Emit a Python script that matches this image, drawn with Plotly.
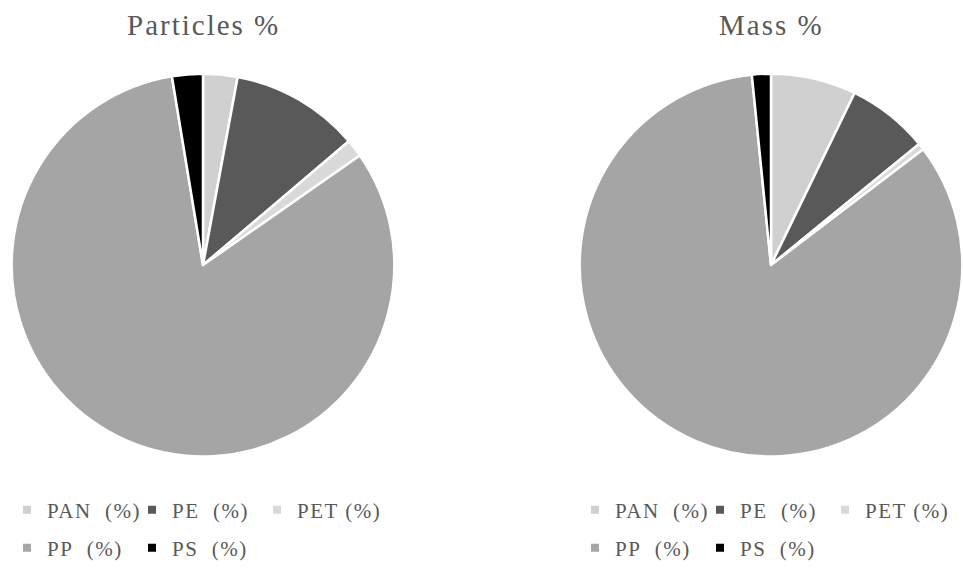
import plotly.graph_objects as go

# ---- data ----
labels = ["PAN  (%)", "PE  (%)", "PET (%)", "PP  (%)", "PS  (%)"]
particles_pct = [2.9, 10.9, 1.5, 82.1, 2.6]
mass_pct = [7.2, 6.9, 0.55, 83.75, 1.6]
colors = ["#d0d0d0", "#595959", "#d9d9d9", "#a5a5a5", "#000000"]
titles = ["Particles %", "Mass %"]

W, H = 963, 569
FONT = "Liberation Serif, Times New Roman, serif"
GRAY = "#595959"

fig = go.Figure()

# pie geometry (pixel centers / radius converted to domain fractions)
def dom(cx, cy, r):
    return dict(x=[max(0, (cx - r) / W), min(1, (cx + r) / W)],
                y=[max(0, (H - cy - r) / H), min(1, (H - cy + r) / H)])

for vals, d in [(particles_pct, dom(203, 266, 192)), (mass_pct, dom(771, 266, 192))]:
    fig.add_trace(go.Pie(
        labels=labels, values=vals, sort=False, direction="clockwise", rotation=0,
        marker=dict(colors=colors, line=dict(color="white", width=2.5)),
        textinfo="none", hoverinfo="label+value", showlegend=False, domain=d,
    ))

def disp(lbl):
    return "<span style='letter-spacing:1.5px'>" + lbl.replace("  ", "\u00a0 ") + "</span>"

# legends: two rows under each pie
rows = [[0, 1, 2], [3, 4]]
legend_ids = [["legend", "legend2"], ["legend3", "legend4"]]
for p in range(2):
    for r, idxs in enumerate(rows):
        for i in idxs:
            fig.add_trace(go.Scatter(
                x=[None], y=[None], mode="markers", name=disp(labels[i]),
                marker=dict(symbol="square", size=8, color=colors[i]),
                legend=legend_ids[p][r], showlegend=True, hoverinfo="skip",
            ))

leg_common = dict(orientation="h", font=dict(family=FONT, size=21, color=GRAY),
                  entrywidth=80, entrywidthmode="pixels", bgcolor="rgba(0,0,0,0)",
                  xanchor="left", yanchor="middle", itemclick=False, itemdoubleclick=False)
row_y = [1 - 512 / H, 1 - 550 / H]
left_x = [7 / W, 575 / W]

fig.update_layout(
    width=W, height=H, margin=dict(l=0, r=0, t=0, b=0),
    paper_bgcolor="white", plot_bgcolor="white",
    xaxis=dict(visible=False), yaxis=dict(visible=False),
    legend=dict(**leg_common, x=left_x[0], y=row_y[0]),
    legend2=dict(**leg_common, x=left_x[0], y=row_y[1]),
    legend3=dict(**leg_common, x=left_x[1], y=row_y[0]),
    legend4=dict(**leg_common, x=left_x[1], y=row_y[1]),
)

for t, cx in zip(titles, [203, 771]):
    fig.add_annotation(
        text="<span style='letter-spacing:2px'>" + t + "</span>",
        x=cx / W, y=1 - 25 / H, xref="paper", yref="paper",
        xanchor="center", yanchor="middle", showarrow=False,
        font=dict(family=FONT, size=29, color=GRAY),
    )

fig.write_html("out.html")
